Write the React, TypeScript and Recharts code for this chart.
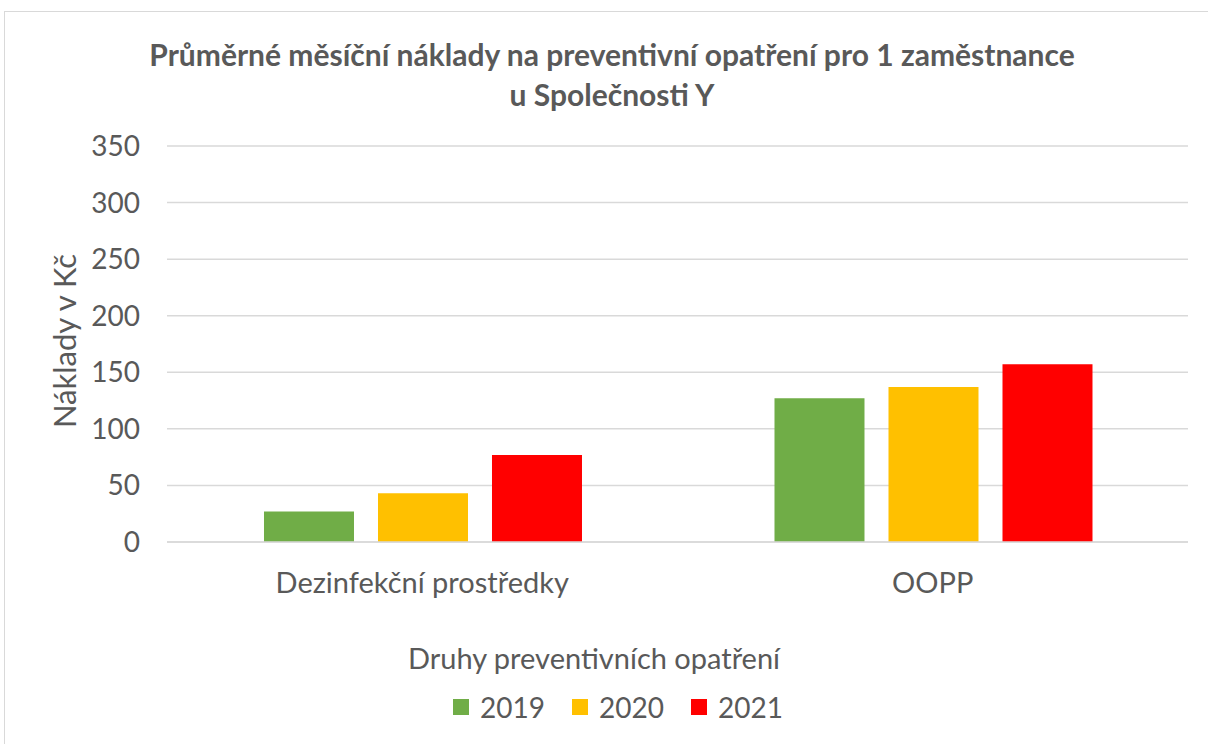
import React from 'react';
import { BarChart, Bar, XAxis, YAxis, CartesianGrid, Legend } from 'recharts';

const categories = ['Dezinfekční prostředky', 'OOPP'];
const values2019 = [27, 127];
const values2020 = [43, 137];
const values2021 = [77, 157];
const yTicks = [0, 50, 100, 150, 200, 250, 300, 350];

const data = categories.map((name, i) => ({
  name,
  y2019: values2019[i],
  y2020: values2020[i],
  y2021: values2021[i],
}));

const FONT = 'Lato, "Open Sans", sans-serif';
const TEXT = '#595959';

const renderLegend = (props: any) => {
  const payload = props.payload || [];
  return (
    <div style={{ display: 'flex', justifyContent: 'center', alignItems: 'center', gap: 27, fontFamily: FONT, fontSize: 28, color: TEXT, paddingLeft: 48, marginTop: -4 }}>
      {payload.map((entry: any) => (
        <div key={entry.value} style={{ display: 'flex', alignItems: 'center' }}>
          <span style={{ display: 'inline-block', width: 16, height: 16, background: entry.color, marginRight: 11 }} />
          <span>{entry.value}</span>
        </div>
      ))}
    </div>
  );
};

const App: React.FC = () => {
  return (
    <div style={{ position: 'absolute', left: 0, top: 0, width: 1208, height: 744, background: '#fff', overflow: 'hidden', fontFamily: FONT }}>
      <div style={{ position: 'absolute', left: 4, top: 11, width: 1220, height: 760, border: '1.5px solid #d9d9d9', boxSizing: 'border-box' }} />
      <div style={{ position: 'absolute', left: 0, top: 34, width: 1224, textAlign: 'center', fontWeight: 700, fontSize: 30, lineHeight: '40px', color: TEXT }}>
        Průměrné měsíční náklady na preventivní opatření pro 1 zaměstnance
        <br />
        u Společnosti Y
      </div>
      <div style={{ position: 'absolute', left: 0, top: 0 }}>
        <BarChart
          width={1208}
          height={744}
          data={data}
          margin={{ top: 146, right: 20, bottom: 0, left: 0 }}
          barCategoryGap="19%"
          barGap={24}
        >
          <CartesianGrid vertical={false} stroke="#d9d9d9" strokeWidth={1.5} />
          <XAxis
            dataKey="name"
            height={152}
            tickLine={false}
            axisLine={{ stroke: '#d9d9d9', strokeWidth: 1.5 }}
            tickMargin={24}
            tick={{ fill: TEXT, fontSize: 29, fontFamily: FONT }}
            label={() => (
              <text x={594} y={669} textAnchor="middle" fill={TEXT} fontSize={29} fontFamily={FONT}>
                Druhy preventivních opatření
              </text>
            )}
          />
          <YAxis
            width={167}
            domain={[0, 350]}
            ticks={yTicks}
            tickLine={false}
            axisLine={false}
            tickMargin={21}
            tick={{ fill: TEXT, fontSize: 28, fontFamily: FONT }}
            label={(props: any) => {
              const vb = props.viewBox;
              const cy = vb.y + vb.height / 2 - 3;
              return (
                <text x={64} y={cy} transform={`rotate(-90 64 ${cy})`} textAnchor="middle" dominantBaseline="central" fill={TEXT} fontSize={31} fontFamily={FONT}>
                  Náklady v Kč
                </text>
              );
            }}
          />
          <Legend verticalAlign="bottom" height={50} content={renderLegend} />
          <Bar dataKey="y2019" name="2019" fill="#70ad47" isAnimationActive={false} />
          <Bar dataKey="y2020" name="2020" fill="#ffc000" isAnimationActive={false} />
          <Bar dataKey="y2021" name="2021" fill="#ff0000" isAnimationActive={false} />
        </BarChart>
      </div>
    </div>
  );
};

export default App;
